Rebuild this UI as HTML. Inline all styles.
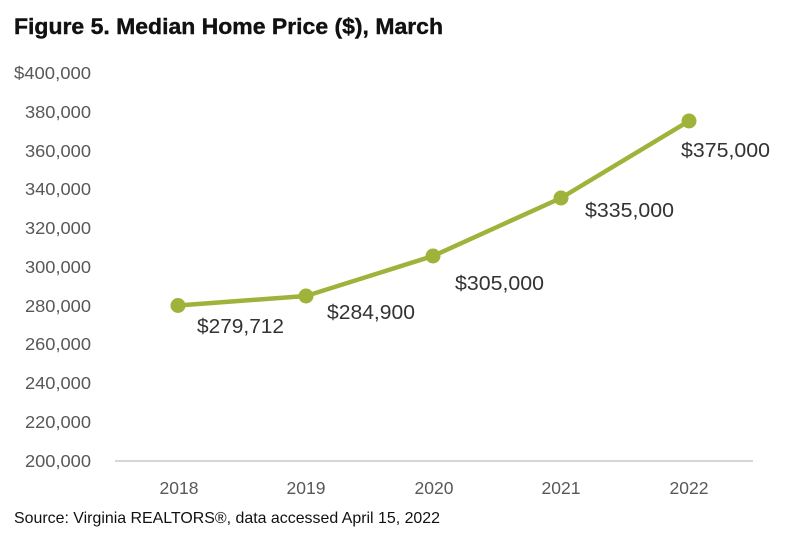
<!DOCTYPE html>
<html>
<head>
<meta charset="utf-8">
<style>
  html, body { margin: 0; padding: 0; background: #ffffff; }
  svg { display: block; }
</style>
</head>
<body>
<svg width="800" height="546" viewBox="0 0 800 546" xmlns="http://www.w3.org/2000/svg">
  <rect width="800" height="546" fill="#ffffff"/>
  <!-- Title -->
  <text x="14" y="34" font-family="Liberation Sans, sans-serif" font-weight="bold" font-size="22.5" fill="#111" stroke="#111" stroke-width="0.4" textLength="429" lengthAdjust="spacingAndGlyphs">Figure 5. Median Home Price ($), March</text>

  <!-- Y axis labels -->
  <g font-family="Liberation Sans, sans-serif" font-size="17.5" fill="#585858" text-anchor="end">
    <text x="91" y="79" textLength="77" lengthAdjust="spacingAndGlyphs">$400,000</text>
    <text x="91" y="118" textLength="66" lengthAdjust="spacingAndGlyphs">380,000</text>
    <text x="91" y="157" textLength="66" lengthAdjust="spacingAndGlyphs">360,000</text>
    <text x="91" y="195" textLength="66" lengthAdjust="spacingAndGlyphs">340,000</text>
    <text x="91" y="234" textLength="66" lengthAdjust="spacingAndGlyphs">320,000</text>
    <text x="91" y="273" textLength="66" lengthAdjust="spacingAndGlyphs">300,000</text>
    <text x="91" y="312" textLength="66" lengthAdjust="spacingAndGlyphs">280,000</text>
    <text x="91" y="350" textLength="66" lengthAdjust="spacingAndGlyphs">260,000</text>
    <text x="91" y="389" textLength="66" lengthAdjust="spacingAndGlyphs">240,000</text>
    <text x="91" y="428" textLength="66" lengthAdjust="spacingAndGlyphs">220,000</text>
    <text x="91" y="467" textLength="66" lengthAdjust="spacingAndGlyphs">200,000</text>
  </g>

  <!-- Baseline -->
  <line x1="115" y1="461" x2="753" y2="461" stroke="#c8c8c8" stroke-width="1.5"/>

  <!-- X labels -->
  <g font-family="Liberation Sans, sans-serif" font-size="17.5" fill="#585858" text-anchor="middle">
    <text x="179" y="494">2018</text>
    <text x="306" y="494">2019</text>
    <text x="434" y="494">2020</text>
    <text x="561" y="494">2021</text>
    <text x="689" y="494">2022</text>
  </g>

  <!-- Series -->
  <polyline points="178,305.5 306,296 433,256 561,198 689,121" fill="none" stroke="#9fb33a" stroke-width="4.5" stroke-linejoin="round"/>
  <g fill="#9fb33a">
    <circle cx="178" cy="305.5" r="7.5"/>
    <circle cx="306" cy="296" r="7.5"/>
    <circle cx="433" cy="256" r="7.5"/>
    <circle cx="561" cy="198" r="7.5"/>
    <circle cx="689" cy="121" r="7.5"/>
  </g>

  <!-- Data labels -->
  <g font-family="Liberation Sans, sans-serif" font-size="20.5" fill="#333">
    <text x="197" y="333" textLength="87" lengthAdjust="spacingAndGlyphs">$279,712</text>
    <text x="327" y="319" textLength="88" lengthAdjust="spacingAndGlyphs">$284,900</text>
    <text x="455" y="290" textLength="89" lengthAdjust="spacingAndGlyphs">$305,000</text>
    <text x="585" y="217" textLength="89" lengthAdjust="spacingAndGlyphs">$335,000</text>
    <text x="681" y="157" textLength="89" lengthAdjust="spacingAndGlyphs">$375,000</text>
  </g>

  <!-- Source -->
  <text x="14" y="523" font-family="Liberation Sans, sans-serif" font-size="16" fill="#111" textLength="426" lengthAdjust="spacingAndGlyphs">Source: Virginia REALTORS®, data accessed April 15, 2022</text>
</svg>
</body>
</html>
